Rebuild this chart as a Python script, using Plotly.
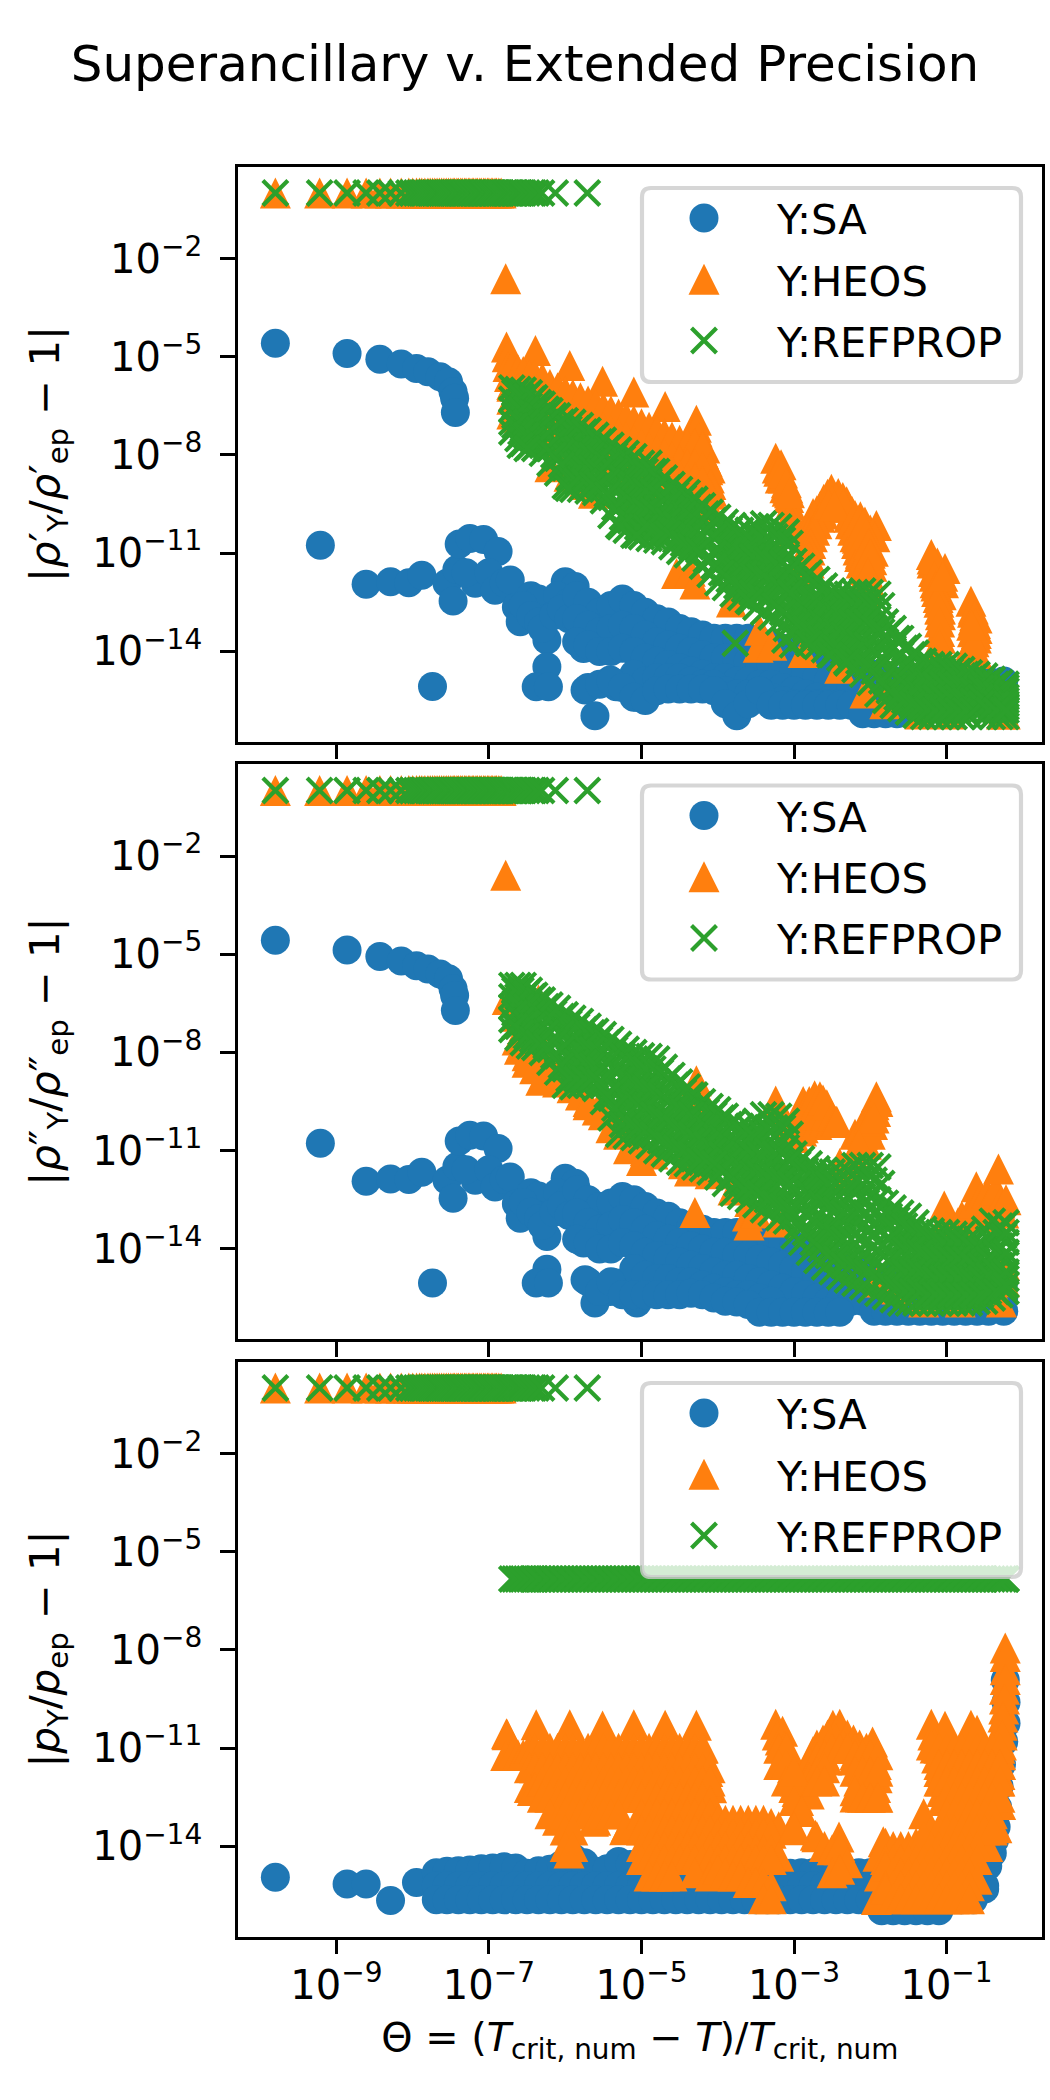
import plotly.graph_objects as go

# All values are log10 of the plotted quantity.
COL = [-6.70,-6.62,-6.55,-6.47,-6.40,-6.30,-6.20,-6.10,-6.00,-5.90,-5.80,-5.70,-5.60,-5.50,-5.40,-5.30,-5.20,-5.10,-5.00,-4.90,-4.80,-4.70,-4.60,-4.50,-4.40,-4.30,-4.20,-4.10,-4.00,-3.90,-3.80,-3.70,-3.60,-3.50,-3.40,-3.30,-3.20,-3.10,-3.00,-2.90,-2.80,-2.70,-2.60,-2.50,-2.40,-2.30,-2.20,-2.10,-2.00,-1.90,-1.80,-1.70,-1.60,-1.50,-1.40,-1.30,-1.20,-1.10,-1.00,-0.90,-0.80,-0.70,-0.60,-0.50,-0.40,-0.30,-0.22]
COL2 = [-6.66,-6.58,-6.51,-6.43,-6.35,-6.25,-6.15,-6.05,-5.95,-5.85,-5.75,-5.65,-5.55,-5.45,-5.35,-5.25,-5.15,-5.05,-4.95,-4.85,-4.75,-4.65,-4.55,-4.45,-4.35,-4.25,-4.15,-4.05,-3.95,-3.85,-3.75,-3.65,-3.55,-3.45,-3.35,-3.25,-3.15,-3.05,-2.95,-2.85,-2.75,-2.65,-2.55,-2.45,-2.35,-2.25,-2.15,-2.05,-1.95,-1.85,-1.75,-1.65,-1.55,-1.45,-1.35,-1.25,-1.15,-1.05,-0.95,-0.85,-0.75,-0.65,-0.55,-0.45,-0.35,-0.25,-0.22]

TOP_X = [-9.80,-9.22,-8.86,-8.61,-8.43,-8.29,-8.15,-8.05,-8.00,-7.95,-7.91,-7.88,-7.84,-7.80,-7.77,-7.74,-7.71,-7.68,-7.65,-7.62,-7.59,-7.56,-7.53,-7.50,-7.47,-7.45,-7.42,-7.40,-7.37,-7.35,-7.32,-7.30,-7.27,-7.25,-7.22,-7.20,-7.17,-7.15,-7.12,-7.10,-7.07,-7.05,-7.02,-7.00,-6.97,-6.95,-6.92,-6.90,-6.87,-6.84]
TOP_X_REFPROP_EXTRA = [-6.80,-6.77,-6.75,-6.72,-6.70,-6.67,-6.65,-6.62,-6.60,-6.57,-6.55,-6.50,-6.44,-6.38,-6.31,-6.13,-5.71]
TOP_VALUE = 0.0

# ---- Superancillary: points left of the dense cloud
SA_LEFT_X = [-9.80,-8.86,-8.43,-8.15,-7.95,-7.80,-7.64,-7.53,-7.47,-7.45,-7.44,-9.21,-8.61,-8.29,-8.05,-7.88,-7.74,-7.55,-7.47,-7.42,-7.39,-7.25,-7.07,-6.88,-7.18,-7.30,-7.00,-6.92,-6.80,-6.72,-6.64,-6.59,-6.45,-6.35,-6.24,-6.24,-6.38,-6.22,-6.25,-6.00,-5.87,-6.10,-5.95,-5.76,-5.74,-5.61,-5.41,-5.33,-5.06,-6.55,-6.45,-6.35,-6.30,-6.15,-6.05,-5.95,-5.85]
RHOL_SA_LEFT = [-4.59,-4.90,-5.08,-5.22,-5.36,-5.46,-5.61,-5.76,-6.07,-6.27,-6.70,-10.76,-11.95,-11.87,-11.90,-11.67,-15.07,-11.92,-12.46,-11.50,-10.72,-10.55,-10.58,-10.95,-11.92,-11.60,-11.60,-12.13,-11.90,-11.82,-12.64,-13.09,-12.30,-12.40,-13.65,-14.47,-15.08,-15.08,-13.00,-11.87,-12.02,-12.30,-12.50,-13.91,-15.18,-15.96,-14.87,-15.08,-15.40,-12.60,-12.90,-13.10,-13.30,-12.90,-12.70,-13.00,-13.10]
RHOV_SA_LEFT = [-4.57,-4.87,-5.07,-5.21,-5.35,-5.45,-5.60,-5.75,-6.05,-6.26,-6.72,-10.77,-11.93,-11.86,-11.88,-11.66,-15.04,-11.90,-12.45,-11.48,-10.70,-10.53,-10.55,-10.93,-11.90,-11.58,-11.58,-12.11,-11.88,-11.80,-12.62,-13.06,-12.28,-12.38,-13.62,-14.62,-15.04,-15.04,-12.98,-11.84,-11.99,-12.28,-12.48,-13.82,-14.94,-15.65,-15.30,-15.04,-15.65,-12.58,-12.88,-13.08,-13.28,-12.88,-12.68,-12.98,-13.08]

SA_COL = [-5.85,-5.70,-5.55,-5.40,-5.25,-5.10,-4.95,-4.80,-4.65,-4.50,-4.35,-4.20,-4.05,-3.90,-3.75,-3.60,-3.45,-3.30,-3.15,-3.00,-2.85,-2.70,-2.55,-2.40,-2.25,-2.10,-1.95,-1.80,-1.65,-1.50,-1.35,-1.20,-1.05,-0.90,-0.75,-0.60,-0.45,-0.25]
RHOL_SA_T = [-12.3,-12.5,-12.8,-12.6,-12.4,-12.6,-12.8,-13.0,-13.1,-13.3,-13.4,-13.5,-13.6,-13.6,-13.6,-13.6,-13.7,-13.8,-13.9,-14.0,-14.1,-14.2,-14.3,-14.4,-14.5,-14.6,-14.7,-14.8,-14.9,-14.9,-14.9,-14.9,-14.9,-14.9,-14.9,-14.9,-14.9,-14.9]
RHOL_SA_A = [-13.0,-13.2,-13.4,-13.3,-13.2,-13.3,-13.5,-13.7,-13.8,-13.9,-14.0,-14.1,-14.2,-14.2,-14.2,-14.3,-14.4,-14.4,-14.5,-14.6,-14.7,-14.8,-14.9,-15.0,-15.1,-15.2,-15.3,-15.4,-15.5,-15.5,-15.5,-15.5,-15.5,-15.5,-15.5,-15.5,-15.5,-15.5]
RHOL_SA_B = [-13.7,-13.8,-14.0,-14.0,-13.9,-14.0,-14.2,-14.3,-14.4,-14.5,-14.6,-14.7,-14.8,-14.8,-14.9,-14.9,-15.0,-15.0,-15.1,-15.2,-15.3,-15.4,-15.5,-15.6,-15.6,-15.6,-15.9,-15.9,-15.9,-15.9]
RHOL_SA_C = [None,None,None,None,None,-14.7,-14.9,-14.8,-14.8,-14.8,-14.9,-15.0,-15.0,-15.2,-15.3,-15.3,-15.2,-15.4,-15.5,-15.6,-15.6,-15.6,-15.6]
RHOL_SA_D = [None,-15.1,-15.0,-14.9,-15.1,-15.4,-15.5,-15.2,-15.15,-15.15,-15.15,-15.15,-15.2,-15.6,-15.96,-15.6,-15.2,-15.64,-15.64,-15.64,-15.64,-15.64,-15.64,-15.64,-15.64,-15.9]
RHOV_SA_T = [-12.2,-12.5,-12.7,-12.6,-12.4,-12.5,-12.7,-12.9,-13.0,-13.2,-13.3,-13.4,-13.5,-13.5,-13.5,-13.6,-13.6,-13.7,-13.8,-13.9,-14.1,-14.2,-14.3,-14.4,-14.6,-14.7,-14.8,-14.9,-15.0,-15.0,-15.0,-15.0,-15.0,-15.0,-15.0,-15.0,-15.0,-15.0]
RHOV_SA_A = [-12.9,-13.2,-13.4,-13.3,-13.1,-13.2,-13.4,-13.6,-13.7,-13.8,-13.9,-14.0,-14.1,-14.1,-14.2,-14.2,-14.3,-14.4,-14.5,-14.6,-14.7,-14.8,-14.9,-15.0,-15.2,-15.3,-15.4,-15.4,-15.5,-15.5,-15.5,-15.5,-15.5,-15.5,-15.5,-15.5,-15.5,-15.5]
RHOV_SA_B = [-13.7,-13.8,-14.0,-14.0,-13.8,-13.9,-14.1,-14.2,-14.3,-14.4,-14.5,-14.6,-14.7,-14.8,-14.8,-14.9,-15.0,-15.1,-15.2,-15.3,-15.4,-15.5,-15.6,-15.6,-15.6,-15.6,-15.9,-15.9,-15.9,-15.9,-15.9,-15.9,-15.9,-15.9,-15.9,-15.9,-15.9,-15.9]
RHOV_SA_C = [None,None,None,None,None,-14.6,-14.8,-14.9,-14.9,-15.0,-15.0,-15.1,-15.2,-15.3,-15.4,-15.4,-15.5,-15.6]
RHOV_SA_D = [None,-15.0,-15.3,-15.0,-15.4,-15.4,-15.4,-15.4,-15.4,-15.4,-15.35,-15.4,-15.5,-15.6,-15.62,-15.7,-15.93,-15.93,-15.93,-15.93,-15.93,-15.93,-15.93,-15.93]

# ---- REFPROP, saturated liquid density: stacked readings per column
RHOL_REF_1 = [-5.95,-6.0,-6.02,-6.1,-6.25,-6.45,-6.65,-6.8,-6.95,-7.0,-7.1,-7.25,-7.4,-7.55,-7.7,-7.85,-7.95,-8.05,-8.25,-8.25,-8.5,-8.7,-8.9,-9.05,-9.15,-9.35,-9.55,-9.75,-9.9,-10.05,-10.15,-10.3,-10.3,-10.2,-10.1,-10.15,-10.2,-10.35,-11.25,-11.4,-11.6,-11.8,-12.0,-12.15,-12.2,-12.25,-12.2,-12.15,-12.2,-12.25,-13.1,-13.3,-13.6,-13.85,-14.05,-14.3,-14.4,-14.4,-14.4,-14.45,-14.55,-14.65,-14.7,-14.75,-14.85,-14.95,-15.0]
RHOL_REF_2 = [-6.3,-6.4,-6.4,-6.5,-6.6,-6.8,-7.0,-7.2,-7.4,-7.5,-7.6,-7.7,-7.8,-8.0,-8.2,-8.4,-8.5,-8.7,-8.8,-8.8,-9.0,-9.2,-9.4,-9.5,-9.6,-9.8,-10.0,-10.2,-10.4,-10.6,-10.7,-10.8,-10.8,-10.8,-10.8,-10.9,-10.9,-11.1,-11.8,-12.0,-12.1,-12.3,-12.5,-12.6,-12.7,-12.8,-12.8,-12.8,-12.9,-13.0,-13.7,-13.9,-14.1,-14.4,-14.5,-14.7,-14.8,-14.8,-14.8,-14.8,-14.9,-15.0,-15.0,-15.0,-15.1,-15.2,-15.2]
RHOL_REF_3 = [-6.6,-6.8,-6.8,-6.9,-7.0,-7.2,-7.4,-7.7,-7.9,-8.0,-8.1,-8.2,-8.3,-8.5,-8.8,-9.0,-9.1,-9.3,-9.4,-9.4,-9.6,-9.7,-9.9,-10.0,-10.1,-10.3,-10.5,-10.7,-10.9,-11.1,-11.2,-11.3,-11.4,-11.4,-11.5,-11.6,-11.7,-11.8,-12.4,-12.5,-12.7,-12.8,-13.0,-13.1,-13.2,-13.3,-13.4,-13.4,-13.6,-13.8,-14.3,-14.5,-14.7,-14.9,-15.0,-15.1,-15.2,-15.2,-15.2,-15.2,-15.3,-15.3,-15.2,-15.4,-15.4,-15.5,-15.5]
RHOL_REF_4 = [-7.0,-7.1,-7.2,-7.3,-7.4,-7.6,-7.8,-8.1,-8.4,-8.5,-8.6,-8.6,-8.7,-9.0,-9.3,-9.6,-9.7,-9.9,-9.9,-10.0,-10.1,-10.2,-10.3,-10.5,-10.6,-10.7,-10.9,-11.2,-11.4,-11.6,-11.7,-11.8,-11.9,-12.0,-12.1,-12.3,-12.4,-12.6,-12.9,-13.0,-13.2,-13.3,-13.5,-13.6,-13.7,-13.8,-14.0,-14.1,-14.3,-14.5,-14.9,-15.1,-15.2,-15.4,-15.5,-15.6,-15.6,-15.6,-15.6,-15.6,-15.6,-15.6,-15.5,-15.7,-15.7,-15.7,-15.7]
RHOL_REF_5 = [-7.3,-7.5,-7.65,-7.75,-7.8,-7.95,-8.25,-8.55,-8.95,-9.05,-9.05,-9.1,-9.15,-9.4,-9.85,-10.15,-10.3,-10.45,-10.5,-10.55,-10.6,-10.65,-10.8,-10.95,-11.05,-11.15,-11.4,-11.65,-11.9,-12.05,-12.25,-12.35,-12.45,-12.65,-12.8,-12.95,-13.1,-13.3,-13.45,-13.6,-13.75,-13.85,-13.95,-14.1,-14.2,-14.35,-14.55,-14.7,-14.95,-15.3,-15.5,-15.65,-15.75,-15.85,-15.95,-15.99,-15.99,-15.99,-15.99,-15.99,-15.99,-15.99,-15.75,-15.99,-15.99,-15.99,-15.99]
RHOL_REF_12 = [-6.1,-6.2,-6.2,-6.3,-6.4,-6.6,-6.8,-7.0,-7.2,-7.2,-7.3,-7.5,-7.6,-7.8,-8.0,-8.1,-8.2,-8.4,-8.5,-8.5,-8.8,-9.0,-9.2,-9.3,-9.4,-9.6,-9.8,-10.0,-10.2,-10.3,-10.4,-10.6,-10.6,-10.5,-10.5,-10.5,-10.6,-10.7,-11.5,-11.7,-11.9,-12.1,-12.3,-12.4,-12.5,-12.5,-12.5,-12.5,-12.6,-12.6,-13.4,-13.6,-13.9,-14.1,-14.3,-14.5,-14.6,-14.6,-14.6,-14.6,-14.7,-14.8,-14.9,-14.9,-15.0,-15.1,-15.1]
RHOL_REF_23 = [-6.5,-6.6,-6.6,-6.7,-6.8,-7.0,-7.2,-7.5,-7.7,-7.8,-7.9,-8.0,-8.1,-8.3,-8.5,-8.7,-8.8,-9.0,-9.1,-9.1,-9.3,-9.5,-9.7,-9.8,-9.9,-10.1,-10.3,-10.5,-10.7,-10.9,-11.0,-11.1,-11.1,-11.1,-11.2,-11.3,-11.3,-11.5,-12.1,-12.3,-12.4,-12.6,-12.8,-12.9,-13.0,-13.1,-13.1,-13.1,-13.3,-13.4,-14.0,-14.2,-14.4,-14.7,-14.8,-14.9,-15.0,-15.0,-15.0,-15.0,-15.1,-15.2,-15.1,-15.2,-15.3,-15.4,-15.4]
RHOL_REF_34 = [-6.8,-7.0,-7.0,-7.1,-7.2,-7.4,-7.6,-7.9,-8.2,-8.3,-8.4,-8.4,-8.5,-8.8,-9.1,-9.3,-9.4,-9.6,-9.7,-9.7,-9.9,-10.0,-10.1,-10.3,-10.4,-10.5,-10.7,-11.0,-11.2,-11.4,-11.5,-11.6,-11.7,-11.7,-11.8,-12.0,-12.1,-12.2,-12.7,-12.8,-13.0,-13.1,-13.3,-13.4,-13.5,-13.6,-13.7,-13.8,-14.0,-14.2,-14.6,-14.8,-15.0,-15.2,-15.3,-15.4,-15.4,-15.4,-15.4,-15.4,-15.5,-15.5,-15.4,-15.6,-15.6,-15.6,-15.6]
RHOL_REF_45 = [-7.1,-7.3,-7.4,-7.5,-7.6,-7.8,-8.0,-8.3,-8.7,-8.8,-8.8,-8.9,-8.9,-9.2,-9.6,-9.9,-10.0,-10.2,-10.2,-10.3,-10.4,-10.4,-10.6,-10.7,-10.8,-10.9,-11.2,-11.4,-11.6,-11.8,-12.0,-12.1,-12.2,-12.3,-12.4,-12.6,-12.8,-13.0,-13.2,-13.3,-13.5,-13.6,-13.7,-13.9,-14.0,-14.1,-14.3,-14.4,-14.6,-14.9,-15.2,-15.4,-15.5,-15.6,-15.7,-15.8,-15.8,-15.8,-15.8,-15.8,-15.8,-15.8,-15.6,-15.8,-15.8,-15.8,-15.8]
RHOL_REF_EXTRA_X = [-6.59,-6.50,-5.96,-5.28,-5.06,-3.77,-3.58,-3.12,-3.02,-2.81,-2.53,-2.31]
RHOL_REF_EXTRA_Y = [-7.70,-7.80,-9.02,-10.19,-10.45,-13.75,-12.48,-13.65,-13.80,-13.75,-14.11,-14.31]

# ---- REFPROP, saturated vapour density
RHOV_REF_1 = [-5.95,-5.95,-5.95,-6.1,-6.25,-6.4,-6.55,-6.65,-6.85,-6.95,-7.05,-7.2,-7.35,-7.45,-7.6,-7.75,-7.9,-8.0,-8.1,-8.12,-8.2,-8.45,-8.7,-8.9,-9.05,-9.3,-9.5,-9.65,-9.75,-9.95,-10.15,-10.25,-10.25,-10.1,-9.9,-9.9,-9.95,-10.1,-11.1,-11.25,-11.4,-11.55,-11.6,-11.65,-11.65,-11.6,-11.45,-11.45,-11.45,-11.5,-12.6,-12.75,-12.9,-13.0,-13.2,-13.4,-13.45,-13.5,-13.5,-13.55,-13.55,-13.7,-13.7,-13.4,-13.15,-13.3,-13.2]
RHOV_REF_2 = [-6.3,-6.3,-6.4,-6.5,-6.6,-6.8,-7.0,-7.1,-7.4,-7.5,-7.5,-7.6,-7.8,-8.0,-8.2,-8.4,-8.6,-8.7,-8.8,-8.8,-8.9,-9.1,-9.3,-9.5,-9.6,-9.9,-10.0,-10.2,-10.3,-10.5,-10.7,-10.8,-10.8,-10.7,-10.6,-10.7,-10.7,-10.9,-11.7,-11.9,-12.1,-12.2,-12.3,-12.4,-12.4,-12.4,-12.3,-12.4,-12.4,-12.5,-13.3,-13.5,-13.6,-13.7,-13.8,-13.9,-14.0,-14.0,-14.0,-14.1,-14.1,-14.2,-14.2,-14.0,-13.8,-13.9,-13.8]
RHOV_REF_3 = [-6.6,-6.8,-6.8,-7.0,-7.0,-7.2,-7.4,-7.6,-7.9,-8.0,-8.0,-8.1,-8.2,-8.5,-8.8,-9.1,-9.2,-9.3,-9.4,-9.5,-9.6,-9.8,-10.0,-10.1,-10.2,-10.4,-10.5,-10.7,-10.8,-11.0,-11.2,-11.3,-11.4,-11.4,-11.4,-11.4,-11.5,-11.6,-12.3,-12.5,-12.8,-13.0,-13.1,-13.2,-13.3,-13.3,-13.2,-13.3,-13.4,-13.4,-14.0,-14.2,-14.3,-14.3,-14.4,-14.5,-14.6,-14.6,-14.6,-14.6,-14.6,-14.7,-14.7,-14.5,-14.4,-14.5,-14.4]
RHOV_REF_4 = [-7.0,-7.2,-7.3,-7.4,-7.5,-7.6,-7.9,-8.1,-8.5,-8.5,-8.5,-8.6,-8.7,-9.0,-9.4,-9.8,-9.9,-9.9,-10.0,-10.2,-10.3,-10.4,-10.6,-10.7,-10.8,-11.0,-11.0,-11.2,-11.3,-11.5,-11.8,-11.9,-11.9,-12.0,-12.1,-12.2,-12.3,-12.4,-13.0,-13.2,-13.4,-13.7,-13.8,-13.9,-14.1,-14.1,-14.2,-14.2,-14.3,-14.4,-14.7,-14.9,-15.0,-15.0,-15.0,-15.1,-15.1,-15.1,-15.1,-15.1,-15.1,-15.2,-15.1,-15.0,-15.0,-15.0,-14.9]
RHOV_REF_5 = [-7.3,-7.55,-7.7,-7.8,-7.85,-8.0,-8.3,-8.6,-9.0,-9.05,-9.0,-9.0,-9.1,-9.5,-10.0,-10.5,-10.55,-10.6,-10.7,-10.85,-11.0,-11.1,-11.25,-11.35,-11.4,-11.5,-11.55,-11.65,-11.8,-12.0,-12.3,-12.4,-12.5,-12.65,-12.8,-12.9,-13.05,-13.15,-13.6,-13.8,-14.1,-14.35,-14.55,-14.7,-14.85,-14.95,-15.05,-15.15,-15.25,-15.35,-15.45,-15.55,-15.65,-15.65,-15.65,-15.65,-15.65,-15.65,-15.65,-15.65,-15.65,-15.65,-15.6,-15.6,-15.5,-15.4,-15.3]
RHOV_REF_12 = [-6.1,-6.1,-6.2,-6.3,-6.4,-6.6,-6.8,-6.9,-7.1,-7.2,-7.3,-7.4,-7.6,-7.7,-7.9,-8.1,-8.3,-8.4,-8.5,-8.5,-8.6,-8.8,-9.0,-9.2,-9.3,-9.6,-9.8,-9.9,-10.0,-10.2,-10.4,-10.5,-10.5,-10.4,-10.3,-10.3,-10.3,-10.5,-11.4,-11.6,-11.8,-11.9,-12.0,-12.0,-12.0,-12.0,-11.9,-11.9,-11.9,-12.0,-13.0,-13.1,-13.3,-13.4,-13.5,-13.6,-13.7,-13.8,-13.8,-13.8,-13.8,-14.0,-14.0,-13.7,-13.5,-13.6,-13.5]
RHOV_REF_23 = [-6.5,-6.6,-6.6,-6.8,-6.8,-7.0,-7.2,-7.4,-7.7,-7.8,-7.8,-7.9,-8.0,-8.3,-8.5,-8.8,-8.9,-9.0,-9.1,-9.2,-9.3,-9.5,-9.7,-9.8,-9.9,-10.2,-10.3,-10.5,-10.6,-10.8,-11.0,-11.1,-11.1,-11.1,-11.0,-11.1,-11.1,-11.3,-12.0,-12.2,-12.5,-12.6,-12.7,-12.8,-12.9,-12.9,-12.8,-12.9,-12.9,-13.0,-13.7,-13.9,-14.0,-14.0,-14.1,-14.2,-14.3,-14.3,-14.3,-14.3,-14.3,-14.5,-14.5,-14.3,-14.1,-14.2,-14.1]
RHOV_REF_34 = [-6.8,-7.0,-7.1,-7.2,-7.3,-7.4,-7.7,-7.9,-8.2,-8.3,-8.3,-8.4,-8.5,-8.8,-9.1,-9.5,-9.6,-9.6,-9.7,-9.9,-10.0,-10.1,-10.3,-10.4,-10.5,-10.7,-10.8,-11.0,-11.1,-11.3,-11.5,-11.6,-11.7,-11.7,-11.8,-11.8,-11.9,-12.0,-12.7,-12.9,-13.1,-13.4,-13.5,-13.6,-13.7,-13.7,-13.7,-13.8,-13.9,-13.9,-14.4,-14.6,-14.7,-14.7,-14.7,-14.8,-14.9,-14.9,-14.9,-14.9,-14.9,-15.0,-14.9,-14.8,-14.7,-14.8,-14.7]
RHOV_REF_45 = [-7.2,-7.4,-7.5,-7.6,-7.7,-7.8,-8.1,-8.4,-8.8,-8.8,-8.8,-8.8,-8.9,-9.3,-9.7,-10.2,-10.2,-10.3,-10.4,-10.5,-10.7,-10.8,-10.9,-11.0,-11.1,-11.3,-11.3,-11.4,-11.6,-11.8,-12.0,-12.2,-12.2,-12.3,-12.5,-12.6,-12.7,-12.8,-13.3,-13.5,-13.8,-14.0,-14.2,-14.3,-14.5,-14.5,-14.6,-14.7,-14.8,-14.9,-15.1,-15.2,-15.3,-15.3,-15.3,-15.4,-15.4,-15.4,-15.4,-15.4,-15.4,-15.4,-15.4,-15.3,-15.3,-15.2,-15.1]

# ---- REFPROP, pressure (nearly constant)
P_REF = [-5.83] * len(COL)

# ---- HEOS, saturated liquid density
RHOL_HEOS_X = [-6.78,-6.77,-6.39,-5.94,-5.51,-5.10,-4.69,-4.28,-4.27,-4.22,-4.17,-4.14,-4.11,-4.08,-3.24,-3.22,-3.17,-3.18,-3.14,-3.12,-3.09,-3.08,-3.07,-3.05,-3.04,-3.02,-3.01,-2.51,-2.56,-2.61,-2.66,-2.70,-2.75,-2.78,-2.80,-2.81,-2.82,-2.84,-2.85,-2.42,-2.36,-2.31,-2.28,-2.24,-2.21,-2.17,-2.13,-2.09,-2.05,-2.13,-2.07,-2.00,-1.92,-1.94,-1.96,-1.98,-2.01,-2.04,-2.08,-1.20,-1.19,-1.17,-1.15,-1.13,-1.10,-1.08,-1.09,-1.10,-1.02,-1.04,-1.07,-1.08,-1.12,-1.10,-0.68,-0.66,-0.60,-0.60,-0.61,-0.65,-0.66,-0.68,-0.69,-0.60,-5.95,-6.20,-5.76,-5.63,-5.19,-5.06,-4.54,-4.36,-4.30,-3.82,-3.47,-3.45,-3.29,-2.88,-2.40,-2.07,-1.81,-1.35,-0.95,-0.28,-0.23]
RHOL_HEOS_Y = [-2.62,-4.70,-4.81,-5.27,-5.75,-6.08,-6.52,-6.94,-7.30,-7.60,-7.79,-8.20,-8.70,-9.11,-8.10,-8.40,-8.30,-8.70,-8.70,-9.00,-9.11,-9.01,-9.30,-9.52,-9.80,-10.10,-10.40,-9.05,-9.20,-9.35,-9.58,-9.70,-9.79,-10.05,-10.33,-10.70,-11.05,-11.30,-11.60,-9.18,-9.30,-9.43,-9.60,-9.72,-10.10,-10.54,-11.00,-11.45,-11.90,-9.89,-10.05,-10.29,-10.15,-10.50,-10.94,-11.40,-11.86,-12.20,-12.40,-11.04,-11.30,-11.56,-11.90,-12.17,-12.50,-12.88,-13.39,-14.00,-11.47,-11.90,-12.27,-12.70,-11.30,-11.70,-12.47,-12.80,-12.98,-13.30,-13.59,-13.04,-13.40,-13.80,-14.06,-14.06,-8.65,-8.36,-8.90,-9.17,-9.22,-9.38,-11.62,-11.55,-11.94,-12.49,-13.87,-13.35,-13.81,-14.03,-14.51,-15.27,-15.60,-15.91,-15.91,-15.91,-15.91]
RHOL_HEOS_X2 = [-2.60,-2.62,-2.66,-2.70,-2.73,-2.76,-2.78,-2.79,-2.80,-2.80,-2.82,-2.28,-2.26,-2.23,-2.20,-2.18,-2.16,-2.14,-2.12,-2.10,-2.08,-2.45,-2.50,-2.55,-2.40,-2.35,-2.47,-2.20,-2.15,-2.10,-2.05,-2.02,-2.00,-1.98,-2.03,-3.20,-3.15,-3.10,-3.06,-1.19,-1.16,-1.14,-1.11,-1.09,-1.05,-1.09,-1.08,-1.09,-0.65,-0.63,-0.62,-0.61,-0.64,-0.67,-4.28,-4.25,-4.20,-4.19,-4.16,-4.13,-4.09,-6.76,-6.75,-6.73,-6.70,-6.68,-6.65,-6.62]
RHOL_HEOS_Y2 = [-9.60,-9.80,-9.90,-10.10,-10.30,-10.50,-10.70,-10.90,-11.10,-11.30,-11.50,-9.90,-10.10,-10.30,-10.50,-10.70,-10.90,-11.10,-11.30,-11.50,-11.70,-9.30,-9.40,-9.50,-9.40,-9.50,-9.55,-9.85,-10.00,-10.15,-10.40,-10.70,-11.00,-11.20,-11.60,-8.50,-8.55,-8.85,-9.15,-11.18,-11.70,-12.00,-12.35,-12.70,-11.70,-13.10,-13.60,-13.80,-12.70,-12.90,-13.15,-13.45,-13.70,-13.20,-7.15,-7.45,-7.70,-7.95,-8.10,-8.45,-8.90,-5.00,-5.30,-5.60,-5.90,-6.20,-6.50,-6.80]
RHOL_HEOS_A = [-5.3,-5.4,-5.45,-5.55,-5.55,-5.65,-5.85,-5.95,-6.05,-6.15,-6.25,-6.35,-6.45,-6.55,-6.65,-6.75,-6.85,-6.95,-7.05,-7.15,-7.25,-7.35,-7.45,-7.55,-7.65,-7.65,-7.75,-8.4]
RHOL_HEOS_B = [-5.85,-5.95,-6.05,-6.15,-6.15,-6.25,-6.45,-6.55,-6.65,-6.75,-6.85,-6.95,-7.05,-7.15,-7.25,-7.35,-7.45,-7.55,-7.65,-7.75,-7.85,-7.95,-8.05,-8.15,-8.25,-8.25,-8.35,-8.9]
RHOL_HEOS_C = [-6.3,-6.4,-6.5,-6.6,-6.6,-6.7,-6.9,-7.0,-7.1,-7.2,-7.3,-7.4,-7.5,-7.6,-7.7,-7.8,-7.9,-8.0,-8.1,-8.2,-8.3,-8.4,-8.5,-8.6,-8.7,-8.7,-8.8,-9.2]
RHOL_HEOS_D = [-6.75,-6.85,-6.95,-7.05,-7.05,-7.15,-7.35,-7.45,-7.55,-7.65,-7.75,-7.85,-7.95,-8.05,-8.15,-8.25,-8.35,-8.45,-8.55,-8.65,-8.75,-8.85,-8.95,-9.05,-9.15,-9.15,-9.25,-9.6]

# ---- HEOS, saturated vapour density
RHOV_HEOS_X = [-6.78,-6.76,-6.68,-6.63,-6.63,-6.35,-6.32,-6.27,-6.60,-6.50,-6.25,-6.10,-5.91,-5.80,-5.70,-5.58,-5.50,-5.40,-5.28,-5.17,-5.05,-5.00,-4.95,-4.85,-4.45,-4.37,-4.30,-4.30,-4.28,-4.20,-3.61,-3.59,-3.58,-3.24,-3.21,-3.20,-3.10,-3.00,-2.95,-2.90,-2.90,-2.88,-2.88,-2.85,-2.80,-2.80,-2.78,-2.73,-2.72,-2.70,-2.66,-2.65,-2.62,-2.60,-2.58,-2.57,-2.51,-2.50,-2.46,-2.44,-2.40,-2.31,-2.28,-2.26,-2.22,-2.20,-2.16,-2.13,-2.13,-2.10,-2.10,-2.05,-2.05,-2.05,-2.02,-2.00,-2.00,-1.98,-1.97,-1.95,-1.93,-1.92,-1.91,-1.90,-1.65,-1.30,-1.05,-1.03,-1.00,-0.85,-0.82,-0.80,-0.70,-0.65,-0.61,-0.60,-0.55,-0.50,-0.50,-0.47,-0.42,-0.40,-0.40,-0.35,-0.32,-0.30,-0.28,-0.25,-0.24,-0.24,-0.22]
RHOV_HEOS_Y = [-2.59,-6.38,-6.12,-6.89,-7.62,-6.40,-8.85,-7.96,-7.90,-8.10,-8.40,-8.90,-9.08,-9.30,-9.50,-9.76,-9.90,-10.30,-10.20,-10.94,-10.80,-11.30,-11.00,-11.10,-11.40,-11.62,-11.50,-12.89,-8.86,-9.40,-12.99,-13.27,-12.55,-9.48,-13.18,-9.80,-10.20,-10.60,-10.20,-10.00,-10.40,-9.50,-10.30,-9.70,-9.50,-10.20,-9.90,-9.32,-9.90,-10.20,-9.35,-9.90,-9.45,-10.10,-9.90,-9.60,-10.14,-9.95,-10.10,-10.10,-11.39,-11.80,-11.70,-11.40,-11.12,-10.50,-10.95,-10.41,-10.70,-10.20,-10.50,-10.25,-10.40,-10.80,-10.00,-9.80,-10.50,-9.80,-10.20,-9.60,-9.80,-9.35,-15.01,-9.50,-15.22,-15.62,-13.20,-12.69,-13.30,-13.20,-15.62,-13.00,-12.90,-12.60,-12.10,-13.00,-12.40,-12.60,-13.00,-12.30,-12.50,-12.40,-13.00,-12.20,-11.56,-12.60,-15.62,-12.90,-15.00,-14.50,-12.50]
RHOV_HEOS_X2 = [-6.50,-6.40,-5.70,-5.30,-4.20,-4.10,-3.50,-3.80,-2.00,-1.95,-2.15]
RHOV_HEOS_Y2 = [-8.30,-8.50,-9.60,-10.50,-11.50,-11.70,-12.90,-12.20,-10.10,-10.00,-10.80]

# ---- Pressure: superancillary
P_SA_LEFT_X = [-9.80,-8.86,-8.61,-8.29,-7.95]
P_SA_LEFT = [-14.94,-15.15,-15.15,-15.65,-15.10]
P_SA_COL = [-7.69,-7.55,-7.40,-7.25,-7.10,-6.95,-6.80,-6.65,-6.50,-6.35,-6.20,-6.05,-5.90,-5.75,-5.60,-5.45,-5.30,-5.15,-5.00,-4.85,-4.70,-4.55,-4.40,-4.25,-4.10,-3.95,-3.80,-3.65,-3.50,-3.35,-3.20,-3.05,-2.90,-2.75,-2.60,-2.45,-2.30,-2.15,-2.00,-1.85,-1.70,-1.55,-1.40,-1.25,-1.10,-0.95,-0.80,-0.65,-0.50]
P_SA_T = [-14.80,-14.76,-14.74,-14.72,-14.68,-14.66,-14.62,-14.66,-14.82,-14.74,-14.70,-14.56,-14.34,-14.50,-14.76,-14.68,-14.46,-14.55,-14.65,-14.66,-14.70,-14.72,-14.74,-14.76,-14.78,-14.80,-14.82,-14.82,-14.82,-14.82,-14.82,-14.82,-14.80,-14.80,-14.80,-14.80,-14.80,-14.80,-14.80,-14.78,-14.76,-14.76,-14.76,-14.76,-14.76,-14.76,-14.70,-14.70,-14.60]
P_SA_M = [-15.20] * len(P_SA_COL)
P_SA_B = [-15.63,-15.63,-15.63,-15.63,-15.63,-15.63,-15.63,-15.63,-15.63,-15.63,-15.63,-15.63,-15.63,-15.63,-15.63,-15.63,-15.63,-15.63,-15.63,-15.63,-15.63,-15.63,-15.63,-15.63,-15.63,-15.63,-15.63,-15.63,-15.63,-15.63,-15.63,-15.63,-15.63,-15.63,-15.63,-15.63,-15.63,-15.63,-15.63,-15.96,-15.96,-15.96,-15.96,-15.96,-15.96,-15.63,-15.63,-15.63,-15.30]
P_SA_END_X = [-0.46,-0.40,-0.37,-0.35,-0.33,-0.31,-0.28,-0.25,-0.22,-0.22,-0.23]
P_SA_END = [-14.60,-14.20,-13.80,-13.40,-12.80,-12.17,-11.50,-10.80,-10.24,-9.60,-8.92]

# ---- Pressure: HEOS. Stacked rows over COL, then single readings
P_HEOS_A = [-11.2,-11.2,-11.2,-11.0,-11.0,-11.0,-11.0,-11.0,-11.0,-11.0,-11.0,-11.0,-11.0,-11.0,-11.0,-11.0,-11.0,-11.0,-11.0,-11.0,-11.0,-11.0,-11.0,-11.0,-11.0,-11.0,-11.0,None,None,None,None,None,None,None,None,None,-11.0,-11.0,None,None,-11.4,-11.3,-11.2,-11.0,-11.0,-11.0,-11.2,-11.2,-11.2,-11.2,None,None,None,None,None,None,-10.9,-11.0,-11.0,-11.0,-11.0,-11.0,-11.0,-11.0,-11.0,-11.0,None]
P_HEOS_AB = [None,None,None,-11.6,-11.6,-11.6,-11.6,-11.6,-11.6,-11.6,-11.6,-11.6,-11.6,-11.6,-11.6,-11.6,-11.6,-11.6,-11.6,-11.6,-11.6,-11.6,-11.6,-11.6,-11.6,-11.6,-11.6,-11.6,None,None,None,None,None,None,None,None,-11.5,-11.5,-12.2,None,-11.9,-11.7,-11.6,None,None,None,-11.7,-11.7,-11.7,-11.7,None,None,None,None,None,None,None,-11.5,-11.5,-11.5,-11.5,-11.5,-11.5,-11.5,-11.5,-11.5,None]
P_HEOS_B = [None,None,None,-12.2,-12.2,-12.0,-12.0,-12.0,-12.0,-12.0,-12.0,-12.0,-12.0,-12.0,-12.0,-12.0,-12.0,-12.0,-12.0,-12.0,-12.0,-12.0,-12.0,-12.0,-12.0,-12.0,-12.0,-12.0,None,None,None,None,None,None,None,None,None,-12.0,-11.7,None,-12.4,-12.0,-12.0,None,None,None,-12.3,-12.5,-12.5,-12.5,None,None,None,None,None,None,None,-12.0,-12.0,-12.0,-12.0,-12.0,-12.0,-12.0,-12.0,-12.0,None]
P_HEOS_BC = [None,None,None,None,None,-12.5,-12.5,-12.6,-12.5,-12.5,-12.5,-12.5,-12.5,-12.5,-12.5,-12.5,-12.5,-12.5,-12.5,-12.5,-12.5,-12.5,-12.5,-12.5,-12.5,-12.5,-12.5,-12.6,None,None,None,None,None,None,None,None,None,None,None,None,None,None,None,None,None,None,None,None,None,None,None,None,None,None,None,None,None,None,-12.5,-12.5,-12.5,-12.5,-12.5,-12.5,-12.5,-12.5,None]
P_HEOS_C = [None,None,None,None,None,None,-13.0,-13.2,-13.0,-13.0,-13.0,-13.0,-13.2,-13.0,-13.0,-13.0,-13.4,-13.4,-13.0,-13.0,-13.0,-13.0,-13.0,-13.0,-13.0,-13.0,-13.0,-13.0,-13.2,-13.2,-13.2,-13.2,-13.2,-13.2,-13.2,-13.3,-13.4,None,-12.6,-12.9,None,-13.7,None,None,None,None,None,None,None,None,None,None,None,None,None,-13.0,None,None,-13.0,-13.0,-13.0,-13.0,-13.0,-13.0,-13.0,None,None]
P_HEOS_CD = [None,None,None,None,None,None,None,None,-13.5,-13.5,None,None,None,None,None,None,None,None,-13.5,-13.5,-13.5,-13.5,-13.5,-13.5,-13.5,-13.5,-13.5,-13.5,-13.6,-13.6,-13.6,-13.6,-13.6,-13.6,-13.6,-13.6,None,None,None,None,None,None,None,None,None,None,None,None,None,None,None,None,None,None,None,None,-13.5,-13.5,-13.5,-13.5,-13.5,-13.5,-13.5,-13.5,-13.5,None,None]
P_HEOS_D = [None,None,None,None,None,None,None,None,-14.0,-14.0,None,None,None,None,None,None,None,None,-14.0,-14.0,-14.0,-14.0,-14.0,-14.0,-14.0,-14.0,-14.0,-14.0,-14.0,-14.0,-14.0,-14.0,-14.0,-14.1,-14.1,-14.1,-14.3,None,-13.4,None,None,None,-14.0,-14.1,-14.0,-14.5,None,None,None,None,-13.9,-14.0,-14.0,-14.0,-13.9,-13.7,-14.0,-14.0,-14.0,-14.0,-14.0,-14.0,-14.0,None,None,None,None]
P_HEOS_DE = [None,None,None,None,None,None,None,None,None,None,None,None,None,None,None,None,None,None,-14.4,-14.4,-14.4,-14.4,-14.4,-14.4,-14.4,-14.4,-14.4,-14.4,-14.4,-14.4,-14.4,-14.4,-14.4,-14.4,-14.4,-14.4,None,None,None,None,None,None,None,None,None,None,None,None,None,None,-14.4,-14.4,-14.4,-14.4,-14.4,-14.4,-14.4,-14.4,-14.4,-14.4,-14.4,-14.4,-14.4,None,None,None,None]
P_HEOS_E = [None,None,None,None,None,None,None,None,None,None,None,None,None,None,None,None,None,None,None,-14.9,-14.9,-14.9,-14.9,None,None,-14.8,None,-14.9,-14.7,-14.8,-14.9,-14.9,-15.1,-15.1,-15.1,-15.2,None,None,None,None,None,None,None,-14.8,-14.7,None,None,None,None,None,-14.6,-14.8,-14.8,-14.8,-14.8,-14.8,-14.8,-14.8,-14.8,-14.8,-14.8,-14.8,-15.0,None,None,None,None]
P_HEOS_EF = [None,None,None,None,None,None,None,None,None,None,None,None,None,None,None,None,None,None,None,None,None,None,None,None,None,None,None,None,None,None,None,None,None,None,None,None,None,None,None,None,None,None,None,None,None,None,None,None,None,None,-15.2,-15.2,-15.2,-15.2,-15.2,-15.2,-15.2,-15.2,-15.2,-15.2,-15.2,-15.2]
P_HEOS_F = [None,None,None,None,None,None,None,None,None,None,None,None,None,None,None,None,None,None,None,None,None,None,None,None,None,None,None,None,None,None,None,None,None,None,-15.6,-15.6,None,None,None,None,None,None,None,None,None,None,None,None,None,None,-15.3,-15.6,-15.6,-15.6,-15.6,-15.6,-15.6,-15.6,-15.6,-15.6,-15.6,-15.6]
P_HEOS_X = [-6.77,-6.76,-6.78,-6.38,-6.43,-5.94,-5.51,-5.10,-5.95,-5.63,-5.22,-4.69,-4.28,-4.19,-4.13,-4.08,-3.24,-3.15,-3.09,-3.00,-2.96,-2.92,-2.99,-2.79,-2.49,-2.40,-2.57,-2.22,-2.62,-2.13,-1.97,-1.92,-1.91,-2.72,-2.41,-2.41,-2.44,-1.83,-1.30,-1.20,-1.02,-0.68,-0.60,-1.15,-1.10,-1.06,-0.23,-0.23,-0.24,-0.25,-0.27,-0.28,-0.29,-0.31,-0.29,-0.34,-0.46,-1.92,-1.88,-1.90]
P_HEOS_Y = [-10.56,-10.59,-11.22,-10.28,-12.29,-10.28,-10.32,-10.28,-14.20,-13.23,-13.49,-10.30,-10.30,-10.99,-11.71,-12.21,-10.27,-10.48,-10.99,-11.71,-12.32,-12.93,-13.49,-11.39,-10.30,-10.27,-11.36,-11.36,-11.98,-12.49,-10.81,-11.50,-12.49,-13.66,-13.71,-14.10,-14.67,-13.86,-13.66,-10.27,-10.33,-10.30,-10.45,-10.99,-11.71,-12.32,-7.94,-8.60,-9.20,-9.80,-10.30,-10.90,-11.50,-12.00,-12.72,-13.43,-14.00,-15.62,-14.90,-14.30]
P_HEOS_X2 = [-3.22,-3.18,-3.12,-3.08,-3.05,-3.02,-2.98,-2.94,-3.00,-1.18,-1.16,-1.13,-1.08,-1.05,-0.23,-0.23,-0.24,-0.26,-0.27,-0.29,-0.30,-1.91,-1.93,-2.00,-2.05,-2.20,-2.15,-2.10,-2.75,-2.70,-2.62,-2.56,-2.30,-2.22,-2.14,-2.05,-2.45,-2.35,-2.55,-2.65,-2.20,-2.10]
P_HEOS_Y2 = [-10.60,-10.75,-10.95,-11.20,-11.45,-11.60,-12.00,-12.60,-12.20,-10.60,-10.85,-11.30,-12.00,-12.60,-8.20,-8.90,-9.50,-10.05,-10.60,-11.20,-11.80,-11.90,-12.20,-12.49,-12.49,-12.49,-12.00,-11.90,-11.10,-10.90,-10.75,-10.60,-10.60,-10.75,-10.90,-11.00,-10.70,-10.90,-10.90,-11.10,-11.00,-11.30]

# ---- Texts
TITLE = "Superancillary v. Extended Precision"
SERIES = ["Y:SA", "Y:HEOS", "Y:REFPROP"]
YLABELS = ["|<i>ρ</i>′<sub>Y</sub>/<i>ρ</i>′<sub>ep</sub> − 1|",
           "|<i>ρ</i>″<sub>Y</sub>/<i>ρ</i>″<sub>ep</sub> − 1|",
           "|<i>p</i><sub>Y</sub>/<i>p</i><sub>ep</sub> − 1|"]
XLABEL = "Θ = (<i>T</i><sub>crit, num</sub> − <i>T</i>)/<i>T</i><sub>crit, num</sub>"
XTICK_EXP = [-9, -7, -5, -3, -1]
YTICK_EXP = [-2, -5, -8, -11, -14]

W, H = 1050, 2100
FONT = "DejaVu Sans"
BLUE, ORANGE, GREEN = "#1f77b4", "#ff7f0e", "#2ca02c"


def gather(*groups):
    xs, ys = [], []
    for xcol, row in groups:
        for x, y in zip(xcol, row):
            if y is not None:
                xs.append(10.0 ** x)
                ys.append(10.0 ** y)
    return xs, ys


TOP_ROW = [TOP_VALUE] * len(TOP_X)
TOP_ROW_R = [TOP_VALUE] * (len(TOP_X) + len(TOP_X_REFPROP_EXTRA))
TOP_XR = TOP_X + TOP_X_REFPROP_EXTRA

panels = [
    (gather((SA_LEFT_X, RHOL_SA_LEFT), (SA_COL, RHOL_SA_T), (SA_COL, RHOL_SA_A), (SA_COL, RHOL_SA_B), (SA_COL, RHOL_SA_C), (SA_COL, RHOL_SA_D)),
     gather((TOP_X, TOP_ROW), (RHOL_HEOS_X, RHOL_HEOS_Y), (RHOL_HEOS_X2, RHOL_HEOS_Y2), (COL, RHOL_HEOS_A), (COL, RHOL_HEOS_B), (COL, RHOL_HEOS_C), (COL, RHOL_HEOS_D)),
     gather((TOP_XR, TOP_ROW_R), (COL, RHOL_REF_1), (COL, RHOL_REF_2), (COL, RHOL_REF_3), (COL, RHOL_REF_4), (COL, RHOL_REF_5),
            (COL2, RHOL_REF_12), (COL2, RHOL_REF_23), (COL2, RHOL_REF_34), (COL2, RHOL_REF_45), (RHOL_REF_EXTRA_X, RHOL_REF_EXTRA_Y))),
    (gather((SA_LEFT_X, RHOV_SA_LEFT), (SA_COL, RHOV_SA_T), (SA_COL, RHOV_SA_A), (SA_COL, RHOV_SA_B), (SA_COL, RHOV_SA_C), (SA_COL, RHOV_SA_D)),
     gather((TOP_X, TOP_ROW), (RHOV_HEOS_X, RHOV_HEOS_Y), (RHOV_HEOS_X2, RHOV_HEOS_Y2)),
     gather((TOP_XR, TOP_ROW_R), (COL, RHOV_REF_1), (COL, RHOV_REF_2), (COL, RHOV_REF_3), (COL, RHOV_REF_4), (COL, RHOV_REF_5),
            (COL2, RHOV_REF_12), (COL2, RHOV_REF_23), (COL2, RHOV_REF_34), (COL2, RHOV_REF_45))),
    (gather((P_SA_LEFT_X, P_SA_LEFT), (P_SA_COL, P_SA_T), (P_SA_COL, P_SA_M), (P_SA_COL, P_SA_B), (P_SA_END_X, P_SA_END)),
     gather((TOP_X, TOP_ROW), (P_HEOS_X, P_HEOS_Y), (P_HEOS_X2, P_HEOS_Y2), (COL, P_HEOS_A), (COL, P_HEOS_AB), (COL, P_HEOS_B), (COL, P_HEOS_BC), (COL, P_HEOS_C),
            (COL, P_HEOS_CD), (COL, P_HEOS_D), (COL, P_HEOS_DE), (COL, P_HEOS_E), (COL, P_HEOS_EF), (COL, P_HEOS_F)),
     gather((TOP_XR, TOP_ROW_R), (COL, P_REF), (COL2, P_REF))),
]

PANEL_TOP = [166.5, 764.0, 1361.5]
PANEL_H = 575.0
AX_L, AX_R = 238.0, 1041.5

fig = go.Figure()
styles = [dict(symbol="circle", size=29, color=BLUE, line=dict(width=0)),
          dict(symbol="triangle-up", size=27, color=ORANGE, line=dict(width=0)),
          dict(symbol="x-thin", size=25, color=GREEN, line=dict(width=4.17, color=GREEN))]

for i, series in enumerate(panels):
    suffix = "" if i == 0 else str(i + 1)
    for j, (xs, ys) in enumerate(series):
        fig.add_trace(go.Scatter(x=xs, y=ys, mode="markers", name=SERIES[j], marker=styles[j],
                                 xaxis="x" + suffix, yaxis="y" + suffix,
                                 legend="legend" + suffix, legendgroup=f"p{i}s{j}",
                                 hoverinfo="skip"))

layout = dict(width=W, height=H, margin=dict(l=0, r=0, t=0, b=0), paper_bgcolor="white", plot_bgcolor="white",
              font=dict(family=FONT, size=41.67, color="black"),
              title=dict(text=TITLE, x=0.5, xanchor="center", y=1 - 63 / H, yanchor="middle",
                         font=dict(family=FONT, size=50, color="black")),
              shapes=[], showlegend=True)

xtick_text = [f"10<sup>−{abs(e)}</sup>" for e in XTICK_EXP]
ytick_text = [f"10<sup>−{abs(e)}</sup>" for e in YTICK_EXP]


def paper_x(px):
    return px / W


def paper_y(py):
    return 1 - py / H


for i in range(3):
    suffix = "" if i == 0 else str(i + 1)
    top = PANEL_TOP[i]
    layout["xaxis" + suffix] = dict(
        type="log", range=[-10.29, 0.245], domain=[AX_L / W, AX_R / W],
        anchor="y" + suffix, showgrid=False, zeroline=False, showline=True, mirror=True,
        linecolor="black", linewidth=3.3, ticks="outside", ticklen=14.6, tickwidth=3.3, tickcolor="black",
        tickmode="array", tickvals=[10.0 ** e for e in XTICK_EXP], ticktext=xtick_text,
        showticklabels=(i == 2), ticklabelstandoff=-3, tickfont=dict(family=FONT, size=40, color="black"))
    if i == 2:
        layout["xaxis" + suffix]["title"] = dict(text=XLABEL, standoff=16, font=dict(family=FONT, size=39.8, color="black"))
    layout["yaxis" + suffix] = dict(
        type="log", range=[-16.75, 0.81], domain=[paper_y(top + PANEL_H), paper_y(top)],
        anchor="x" + suffix, showgrid=False, zeroline=False, showline=True, mirror=True,
        linecolor="black", linewidth=3.3, ticks="outside", ticklen=14.6, tickwidth=3.3, tickcolor="black",
        tickmode="array", tickvals=[10.0 ** e for e in YTICK_EXP], ticktext=ytick_text, ticklabelstandoff=10,
        tickfont=dict(family=FONT, size=40, color="black"),
        title=dict(text=YLABELS[i], standoff=20, font=dict(family=FONT, size=41.67, color="black")))
    # legend: the entries themselves
    layout["legend" + suffix] = dict(
        x=paper_x(631), xanchor="left", y=paper_y(top + 18), yanchor="top",
        bgcolor="rgba(0,0,0,0)", borderwidth=0, itemwidth=136, tracegroupgap=4, itemclick=False, itemdoubleclick=False,
        font=dict(family=FONT, size=41.67, color="black"))
    # rounded frame behind the legend entries
    x0, x1, y0, y1, r = 642.0, 1021.0, top + 21.5, top + 215.5, 9.0
    path = (f"M {paper_x(x0 + r)},{paper_y(y0)} L {paper_x(x1 - r)},{paper_y(y0)} "
            f"Q {paper_x(x1)},{paper_y(y0)} {paper_x(x1)},{paper_y(y0 + r)} "
            f"L {paper_x(x1)},{paper_y(y1 - r)} Q {paper_x(x1)},{paper_y(y1)} {paper_x(x1 - r)},{paper_y(y1)} "
            f"L {paper_x(x0 + r)},{paper_y(y1)} Q {paper_x(x0)},{paper_y(y1)} {paper_x(x0)},{paper_y(y1 - r)} "
            f"L {paper_x(x0)},{paper_y(y0 + r)} Q {paper_x(x0)},{paper_y(y0)} {paper_x(x0 + r)},{paper_y(y0)} Z")
    layout["shapes"].append(dict(type="path", xref="paper", yref="paper", path=path, layer="above",
                                 fillcolor="rgba(255,255,255,0.8)",
                                 line=dict(color="rgba(204,204,204,0.8)", width=4.17)))

fig.update_layout(**layout)

POST = """
document.body.style.margin='0';
var gd=document.getElementById('{plot_id}');
var TRI='M-15.5,15.5H15.5L0,-15.5Z';
var CIRC='M14.5,0A14.5,14.5 0 1,1 0,-14.5A14.5,14.5 0 0,1 14.5,0Z';
var XP='M12.5,12.5L-12.5,-12.5M12.5,-12.5L-12.5,12.5';
gd.querySelectorAll('.scatterlayer .trace').forEach(function(t){
  var d=t.__data__&&t.__data__[0]&&t.__data__[0].trace;
  if(d&&d.marker.symbol==='triangle-up'){t.querySelectorAll('path.point').forEach(function(p){p.setAttribute('d',TRI);});}
});
gd.querySelectorAll('.legend, .legend2, .legend3').forEach(function(l){
  l.querySelectorAll('.traces').forEach(function(t,i){
    var p=t.querySelector('.legendpoints path.scatterpts');
    if(!p)return;
    p.setAttribute('d',[CIRC,TRI,XP][i%3]);
    if(i%3===2){p.style.strokeWidth='4.17px';}
  });
});
"""
fig.write_html("out.html", post_script=POST, config=dict(displayModeBar=False))
